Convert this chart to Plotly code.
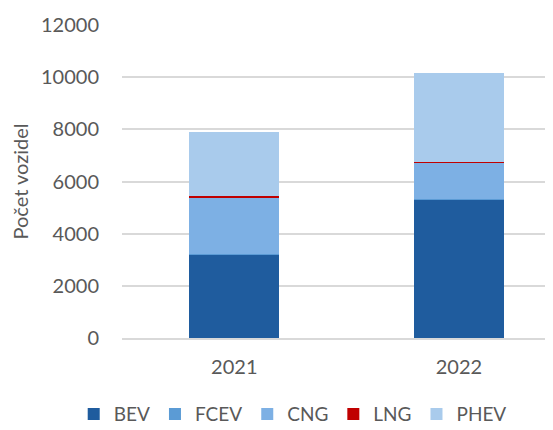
import plotly.graph_objects as go

years = ["2021", "2022"]
bev = [3200, 5300]
fcev = [10, 20]
cng = [2180, 1400]
lng = [50, 15]
phev = [2460, 3435]

series = [
    ("BEV", bev, "#1F5C9E"),
    ("FCEV", fcev, "#5B9BD5"),
    ("CNG", cng, "#7DB0E4"),
    ("LNG", lng, "#C00000"),
    ("PHEV", phev, "#A9CBEC"),
]

fig = go.Figure()
for name, vals, color in series:
    fig.add_trace(go.Bar(name=name, x=years, y=vals,
                         marker=dict(color=color, line=dict(width=0))))

font = dict(family="Lato, Open Sans, sans-serif", size=20, color="#595959")

# page body has an 8px margin, so shift everything up/left by 8
fig.update_layout(
    barmode="stack",
    bargap=0.6,
    width=553,
    height=430,
    autosize=False,
    margin=dict(l=114, r=0, t=17, b=100, autoexpand=False),
    plot_bgcolor="white",
    paper_bgcolor="white",
    font=font,
    showlegend=True,
    legend=dict(
        orientation="h",
        x=-0.11, xanchor="left",
        y=-0.243, yanchor="middle",
        font=dict(family="Lato, Open Sans, sans-serif", size=19, color="#595959"),
        traceorder="normal",
        itemwidth=30,
    ),
)
fig.update_xaxes(
    range=[-0.5, 1.4545],
    showgrid=False,
    showline=True,
    linecolor="#D9D9D9",
    linewidth=1.5,
    ticks="",
    ticklabelstandoff=10,
    tickfont=font,
)
fig.update_yaxes(
    range=[0, 12000],
    dtick=2000,
    tickformat="d",
    showgrid=True,
    gridcolor="#D9D9D9",
    gridwidth=1.5,
    zeroline=False,
    ticks="",
    ticklabelstandoff=22,
    tickfont=font,
    title=dict(text="Počet vozidel", font=font, standoff=12),
)

fig.write_html("out.html")
